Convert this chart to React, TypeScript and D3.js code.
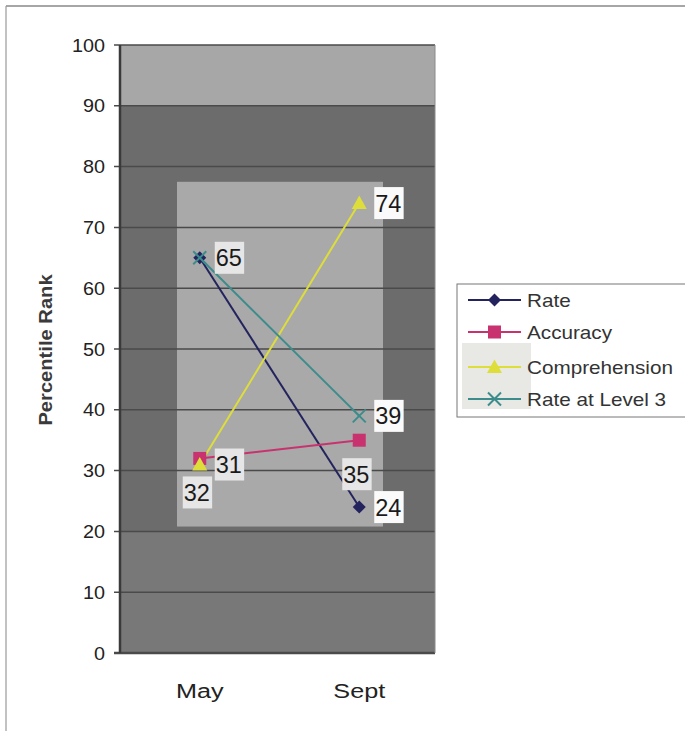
import React from "react";
import * as d3 from "d3";

const categories = ["May", "Sept"];
const rate = [65, 24];
const accuracy = [32, 35];
const comprehension = [31, 74];
const rateLevel3 = [65, 39];
const seriesNames = ["Rate", "Accuracy", "Comprehension", "Rate at Level 3"];
const yTicks = [0, 10, 20, 30, 40, 50, 60, 70, 80, 90, 100];

const W = 685, H = 731;
const left = 120, right = 435, top = 45, bottom = 653;

type Series = { name: string; values: number[]; color: string; marker: string; labelPos: string; showLabel: boolean[] };

export default function App() {
  const x = d3.scaleBand().domain(categories).range([left, right + 4]);
  const cx = (c: string) => (x(c) as number) + x.bandwidth() / 2;
  const y = d3.scaleLinear().domain([0, 100]).range([bottom, top]);

  const series: Series[] = [
    { name: seriesNames[0], values: rate, color: "#23235e", marker: "diamond", labelPos: "right", showLabel: [true, true] },
    { name: seriesNames[1], values: accuracy, color: "#c8336f", marker: "square", labelPos: "below", showLabel: [true, true] },
    { name: seriesNames[2], values: comprehension, color: "#dede3a", marker: "triangle", labelPos: "right", showLabel: [true, true] },
    { name: seriesNames[3], values: rateLevel3, color: "#3d8c8c", marker: "x", labelPos: "right", showLabel: [false, true] },
  ];

  const line = d3.line<number>().x((_, i) => cx(categories[i])).y((v) => y(v));

  const marker = (m: string, px: number, py: number, color: string, key: string, s = 1) => {
    if (m === "diamond") {
      const r = 6.5 * s;
      return <path key={key} d={`M${px},${py - r}L${px + r},${py}L${px},${py + r}L${px - r},${py}Z`} fill={color} />;
    }
    if (m === "square") {
      const r = 6.5 * s;
      return <rect key={key} x={px - r} y={py - r} width={2 * r} height={2 * r} fill={color} />;
    }
    if (m === "triangle") {
      const r = 7.5 * s;
      return <path key={key} d={`M${px},${py - r}L${px + r},${py + r * 0.8}L${px - r},${py + r * 0.8}Z`} fill={color} />;
    }
    const r = 6.5 * s;
    return (
      <path key={key} d={`M${px - r},${py - r}L${px + r},${py + r}M${px + r},${py - r}L${px - r},${py + r}`} stroke={color} strokeWidth={2} fill="none" />
    );
  };

  const labels: React.ReactNode[] = [];
  series.forEach((s, si) => {
    s.values.forEach((v, i) => {
      if (!s.showLabel[i]) return;
      const px = cx(categories[i]);
      const py = y(v);
      let tx: number, ty: number;
      if (s.labelPos === "right") {
        tx = px + 16;
        ty = py;
      } else {
        tx = px - 16;
        ty = py + 34;
      }
      const txt = String(v);
      const tw = txt.length * 13.2;
      const bright = i === 1 && si !== 1;
      labels.push(
        <g key={`l${si}-${i}`}>
          <rect x={tx - 1} y={ty - 16} width={tw + 3} height={32} fill={bright ? "#fafafa" : "#e6e6e6"} />
          <text x={tx} y={ty + 8.5} fontSize={23.5} fill="#1a1a1a">{txt}</text>
        </g>
      );
    });
  });

  const legendY = [300, 332, 367, 399];

  return (
    <svg width={W} height={H} style={{ position: "absolute", left: 0, top: 0, background: "#fff" }} fontFamily="Liberation Sans, Arial, sans-serif">
      {/* outer frame */}
      <line x1={6} y1={6} x2={685} y2={6} stroke="#888" strokeWidth={1.5} />
      <line x1={6} y1={6} x2={6} y2={731} stroke="#999" strokeWidth={1.2} />
      {/* background bands */}
      <rect x={left} y={y(100)} width={right - left} height={y(90) - y(100)} fill="#a7a7a7" />
      <rect x={left} y={y(90)} width={right - left} height={y(20) - y(90)} fill="#6c6c6c" />
      <rect x={left} y={y(20)} width={right - left} height={y(0) - y(20)} fill="#787878" />
      {/* lighter inner region */}
      <rect x={177} y={y(77.5)} width={206} height={y(20.8) - y(77.5)} fill="#a9a9a9" />
      {/* gridlines */}
      {yTicks.map((t) => (
        <line key={t} x1={left - 6} x2={right} y1={y(t)} y2={y(t)} stroke="#4a4a4a" strokeWidth={t === 0 ? 2.5 : 1.5} />
      ))}
      <line x1={left} x2={left} y1={top} y2={bottom} stroke="#3a3a3a" strokeWidth={2.5} />
      <line x1={right} x2={right} y1={top} y2={bottom} stroke="#8a8a8a" strokeWidth={1} />
      {/* tick labels */}
      {yTicks.map((t) => (
        <text key={t} transform={`translate(105,${y(t) + 6.5}) scale(1.1,1)`} textAnchor="end" fontSize={18} fill="#222">{t}</text>
      ))}
      {categories.map((c) => (
        <text key={c} transform={`translate(${cx(c)},698) scale(1.2,1)`} textAnchor="middle" fontSize={21} fill="#222">{c}</text>
      ))}
      <text transform={`translate(52,350) rotate(-90) scale(1.12,1)`} textAnchor="middle" fontSize={18} fontWeight="bold" fill="#3a3a3a">Percentile Rank</text>
      {/* lines */}
      {series.map((s) => (
        <path key={s.name} d={line(s.values) || ""} fill="none" stroke={s.color} strokeWidth={2} />
      ))}
      {series.map((s, si) => s.values.map((v, i) => marker(s.marker, cx(categories[i]), y(v), s.color, `m${si}-${i}`)))}
      {labels}
      {/* legend */}
      <rect x={457} y={284} width={240} height={133} fill="#fff" stroke="#777" strokeWidth={1} />
      <rect x={462} y={343} width={69} height={66} fill="#e8e8e4" />
      {series.map((s, i) => (
        <g key={s.name}>
          <line x1={468} x2={521} y1={legendY[i]} y2={legendY[i]} stroke={s.color} strokeWidth={2} />
          {marker(s.marker, 494.5, legendY[i], s.color, `lm${i}`, 1)}
          <text transform={`translate(527,${legendY[i] + 6.5}) scale(1.15,1)`} fontSize={18} fill="#333">{s.name}</text>
        </g>
      ))}
    </svg>
  );
}
